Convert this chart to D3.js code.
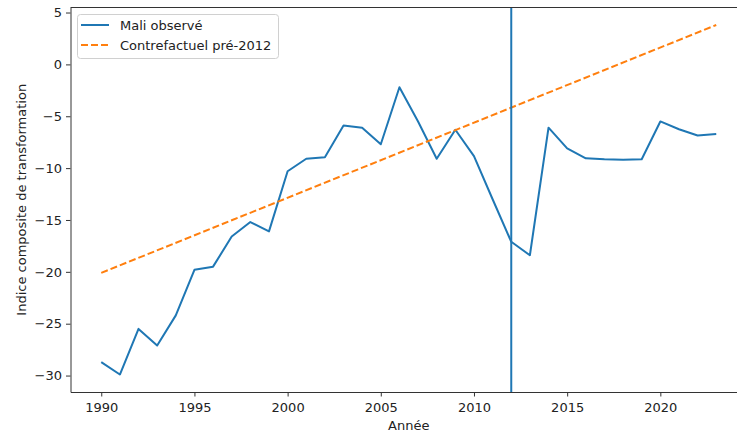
<!DOCTYPE html>
<html>
<head>
<meta charset="utf-8">
<script src="https://cdn.jsdelivr.net/npm/d3@7"></script>
<style>
  body { margin: 0; background: #fff; }
  svg { display: block; font-family: "DejaVu Sans", sans-serif; }
</style>
</head>
<body>
<svg id="chart" width="737" height="432"></svg>
<script>
const years = [
  1990, 1991, 1992, 1993, 1994, 1995, 1996, 1997, 1998, 1999,
  2000, 2001, 2002, 2003, 2004, 2005, 2006, 2007, 2008, 2009,
  2010, 2011, 2012, 2013, 2014, 2015, 2016, 2017, 2018, 2019,
  2020, 2021, 2022, 2023,
];
const maliValues = [
  -28.7, -29.9, -25.5, -27.1, -24.2, -19.8, -19.5, -16.6, -15.2, -16.1,
  -10.3, -9.1, -8.95, -5.9, -6.1, -7.7, -2.2, -5.5, -9.1, -6.3,
  -8.85, -13.0, -17.1, -18.4, -6.1, -8.1, -9.05, -9.15, -9.2, -9.15,
  -5.5, -6.25, -6.85, -6.7,
];
// pre-2012 counterfactual (straight trend, endpoints only)
const cfYears = [1990, 2023];
const cfValues = [-20.1, 3.8];
const breakYear = 2012;

const xTicks = [1990, 1995, 2000, 2005, 2010, 2015, 2020];
const yTicks = [-30, -25, -20, -15, -10, -5, 0, 5];

const blue = '#1f77b4';
const orange = '#ff7f0e';

const svg = d3.select('#chart');
const margin = { top: 7.5, left: 70.5, bottom: 392, right: 747 };

// matplotlib-like 5% padding around the data
function padded(ext) {
  const pad = (ext[1] - ext[0]) * 0.05;
  return [ext[0] - pad, ext[1] + pad];
}
const allY = maliValues.concat(cfValues);

const x = d3.scaleLinear()
  .domain(padded(d3.extent(years)))
  .range([margin.left, margin.right]);
const y = d3.scaleLinear()
  .domain(padded(d3.extent(allY)))
  .range([margin.bottom, margin.top]);

// observed line
const maliData = years.map((yr, i) => ({ year: yr, value: maliValues[i] }));
const cfData = cfYears.map((yr, i) => ({ year: yr, value: cfValues[i] }));
const line = d3.line().x((d) => x(d.year)).y((d) => y(d.value));

svg.append('path')
  .datum(maliData)
  .attr('d', line)
  .attr('fill', 'none')
  .attr('stroke', blue)
  .attr('stroke-width', 2)
  .attr('stroke-linejoin', 'round');

svg.append('path')
  .datum(cfData)
  .attr('d', line)
  .attr('fill', 'none')
  .attr('stroke', orange)
  .attr('stroke-width', 2)
  .attr('stroke-dasharray', '7,3');

// 2012 break line
svg.append('line')
  .attr('x1', x(breakYear))
  .attr('x2', x(breakYear))
  .attr('y1', margin.top)
  .attr('y2', margin.bottom)
  .attr('stroke', blue)
  .attr('stroke-width', 2);

// axes
const xAxis = svg.append('g')
  .attr('transform', `translate(0,${margin.bottom})`)
  .call(d3.axisBottom(x).tickValues(xTicks).tickFormat(d3.format('d'))
    .tickSize(4.5).tickPadding(6.5).tickSizeOuter(0));
const yAxis = svg.append('g')
  .attr('transform', `translate(${margin.left},0)`)
  .call(d3.axisLeft(y).tickValues(yTicks)
    .tickSize(4.5).tickPadding(4).tickSizeOuter(0));

[xAxis, yAxis].forEach((g) => {
  g.select('.domain').attr('stroke', '#333').attr('stroke-width', 1);
  g.selectAll('.tick line').attr('stroke', '#333').attr('stroke-width', 1);
  g.selectAll('.tick text')
    .attr('fill', '#222')
    .style('font-size', '13px')
    .style('font-family', '"DejaVu Sans", sans-serif');
});

// top spine (right one falls outside the picture)
svg.append('line')
  .attr('x1', margin.left)
  .attr('x2', margin.right)
  .attr('y1', margin.top)
  .attr('y2', margin.top)
  .attr('stroke', '#333')
  .attr('stroke-width', 1);

// axis titles
svg.append('text')
  .attr('x', (margin.left + margin.right) / 2)
  .attr('y', 430)
  .attr('text-anchor', 'middle')
  .attr('fill', '#222')
  .style('font-size', '13px')
  .text('Année');

svg.append('text')
  .attr('transform', `translate(26,${(margin.top + margin.bottom) / 2}) rotate(-90)`)
  .attr('text-anchor', 'middle')
  .attr('fill', '#222')
  .style('font-size', '13px')
  .text('Indice composite de transformation');

// legend
const legend = svg.append('g');
legend.append('rect')
  .attr('x', 77.5)
  .attr('y', 14.5)
  .attr('width', 201)
  .attr('height', 44)
  .attr('rx', 3)
  .attr('fill', 'rgba(255,255,255,0.8)')
  .attr('stroke', '#d0d0d0')
  .attr('stroke-width', 1);

const entries = [
  { label: 'Mali observé', color: blue, dash: null },
  { label: 'Contrefactuel pré-2012', color: orange, dash: '7,3' },
];
entries.forEach((e, i) => {
  const cy = 25 + 20 * i;
  legend.append('line')
    .attr('x1', 81)
    .attr('x2', 109)
    .attr('y1', cy)
    .attr('y2', cy)
    .attr('stroke', e.color)
    .attr('stroke-width', 2)
    .attr('stroke-dasharray', e.dash);
  legend.append('text')
    .attr('x', 120)
    .attr('y', cy + 4.5)
    .attr('fill', '#222')
    .style('font-size', '13px')
    .text(e.label);
});
</script>
</body>
</html>
